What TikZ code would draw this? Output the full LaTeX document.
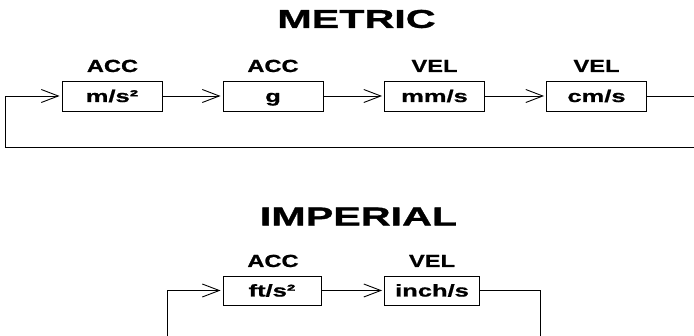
\documentclass[tikz,border=0pt]{standalone}
\usepackage{fontspec}
\newfontfamily\ttlfont{Liberation Sans}[FakeStretch=1.6, FakeBold=1.2]
\newfontfamily\lblfont{Liberation Sans}[FakeStretch=1.35, FakeBold=1]
\newfontfamily\bxfont{Liberation Sans}[FakeStretch=1.5, FakeBold=1]
\usetikzlibrary{arrows.meta}
\begin{document}
\begin{tikzpicture}[
          bx/.style={draw, line width=0.9pt, minimum width=100pt, minimum height=30pt, inner sep=0pt,
            text height=12pt, text depth=0pt, font=\bxfont\bfseries\fontsize{17}{20}\selectfont},
          lbl/.style={inner sep=0pt, anchor=base, font=\lblfont\bfseries\fontsize{17.5}{20}\selectfont},
          ttl/.style={inner sep=0pt, font=\ttlfont\bfseries\fontsize{25.8}{30}\selectfont},
          ln/.style={line width=0.9pt},
          ar/.style={line width=0.9pt, shorten >=2pt, -{Straight Barb[length=17pt, width=13pt, line width=0.9pt]}},
          x=1pt,
          y=-1pt,
        ]
      \useasboundingbox (0, 0) rectangle (694, 336);
      % metric
      \node[ttl] (metric) at (356.5, 19) {METRIC};
      \node[bx] (ms2) at (112, 96) {m/s²};
      \node[bx] (g) at (273, 96) {g};
      \node[bx] (mms) at (434.5, 96) {mm/s};
      \node[bx] (cms) at (596.5, 96) {cm/s};
      \node[lbl] (accA) at (112.5, 72) {ACC};
      \node[lbl] (accB) at (273, 72) {ACC};
      \node[lbl] (velA) at (434.5, 72) {VEL};
      \node[lbl] (velB) at (596.5, 72) {VEL};
      \coordinate (mR) at (694, 96);
      \coordinate (mBR) at (694, 147);
      \coordinate (mBL) at (5, 147);
      \coordinate (mTL) at (5, 96);
      \draw[ar] (mTL) -- (ms2.west);
      \draw[ar] (ms2.east) -- (g.west);
      \draw[ar] (g.east) -- (mms.west);
      \draw[ar] (mms.east) -- (cms.west);
      \draw[ln] (cms.east) -- (mR);
      \draw[ln] (mBR) -- (mBL) -- (mTL);
      % imperial
      \node[ttl] (imperial) at (358.5, 216.5) {IMPERIAL};
      \node[bx, minimum width=98pt, minimum height=29pt] (fts2) at (272, 290.5) {ft/s²};
      \node[bx, minimum width=95pt, minimum height=29pt] (ins) at (432, 290.5) {inch/s};
      \node[lbl] (accC) at (273, 267) {ACC};
      \node[lbl] (velC) at (432, 267) {VEL};
      \coordinate (iTL) at (167, 290.5);
      \coordinate (iBL) at (167, 336);
      \coordinate (iTR) at (540, 290.5);
      \coordinate (iBR) at (540, 336);
      \draw[ar] (iBL) -- (iTL) -- (fts2.west);
      \draw[ar] (fts2.east) -- (ins.west);
      \draw[ln] (ins.east) -- (iTR) -- (iBR);
    \end{tikzpicture}
\end{document}
